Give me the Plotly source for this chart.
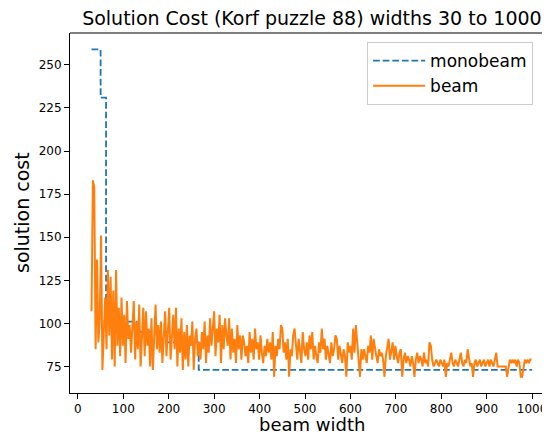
import plotly.graph_objects as go

# ---- data ----
mono_widths = [30, 50, 62, 85, 129, 196, 266, 1000]
mono_costs = [259, 231, 105, 101, 95, 89, 73, 73]

beam_start = 30
beam_step = 3
beam_costs = [
    107, 183, 179, 85, 137, 89, 101, 151, 73, 91,
    115, 85, 131, 93, 127, 79, 119, 75, 131, 87,
    109, 81, 115, 87, 105, 77, 113, 91, 99, 83,
    97, 113, 79, 101, 85, 111, 75, 95, 109, 81,
    107, 87, 97, 75, 103, 73, 93, 111, 85, 99,
    83, 101, 77, 95, 107, 81, 99, 109, 79, 93,
    105, 85, 109, 75, 97, 83, 103, 73, 95, 79,
    99, 75, 93, 87, 101, 73, 91, 97, 81, 89,
    79, 95, 85, 101, 77, 93, 83, 103, 87, 97,
    107, 81, 97, 89, 105, 77, 99, 85, 103, 93,
    87, 103, 79, 97, 83, 91, 77, 99, 85, 93,
    79, 93, 89, 81, 87, 77, 95, 83, 91, 79,
    97, 85, 89, 79, 93, 83, 77, 87, 81, 91,
    83, 89, 79, 95, 69, 87, 81, 91, 85, 99,
    97, 83, 89, 79, 91, 69, 85, 81, 93, 97,
    87, 79, 91, 83, 77, 95, 85, 81, 89, 79,
    93, 85, 95, 79, 87, 81, 77, 89, 83, 97,
    85, 91, 79, 87, 83, 77, 89, 81, 85, 93,
    91, 79, 87, 83, 77, 85, 81, 69, 89, 83,
    87, 79, 97, 83, 99, 89, 81, 69, 85, 79,
    85, 81, 77, 87, 83, 93, 79, 91, 85, 81,
    77, 85, 81, 83, 79, 69, 81, 87, 91, 79,
    85, 89, 79, 87, 81, 77, 83, 85, 69, 79,
    83, 77, 81, 79, 75, 81, 77, 69, 79, 83,
    77, 81, 79, 75, 83, 77, 79, 75, 89, 87,
    79, 75, 77, 79, 77, 75, 79, 77, 75, 79,
    69, 77, 75, 79, 83, 77, 75, 79, 77, 75,
    79, 83, 77, 75, 79, 77, 85, 79, 75, 77,
    69, 77, 79, 75, 77, 79, 75, 77, 79, 75,
    77, 79, 75, 79, 77, 75, 79, 83, 75, 75,
    75, 75, 75, 75, 75, 69, 75, 79, 77, 79,
    77, 79, 75, 79, 77, 69, 69, 75, 79, 77,
    79, 77, 79, 79,
]
beam_widths = [beam_start + beam_step * i for i in range(len(beam_costs))]

x_ticks = [0, 100, 200, 300, 400, 500, 600, 700, 800, 900, 1000]
y_ticks = [75, 100, 125, 150, 175, 200, 225, 250]

FONT = "DejaVu Sans"
FIG_H = 428

fig = go.Figure()
fig.add_trace(go.Scatter(
    x=mono_widths, y=mono_costs, mode="lines", name="monobeam",
    line=dict(color="#1f77b4", width=1.8, dash="6.7px,2.9px", shape="hv"),
))
fig.add_trace(go.Scatter(
    x=beam_widths, y=beam_costs, mode="lines", name="beam",
    line=dict(color="#ff7f0e", width=2),
))

fig.update_layout(
    width=542, height=FIG_H,
    margin=dict(l=62, r=0, t=25, b=43, autoexpand=False),
    paper_bgcolor="white", plot_bgcolor="white",
    font=dict(family=FONT, color="black", size=12),
    title=dict(text="Solution Cost (Korf puzzle 88) widths 30 to 1000",
               x=0.504, xref="paper", xanchor="center",
               y=1 - 10 / FIG_H, yref="container", yanchor="middle",
               font=dict(family=FONT, size=19, color="black")),
    showlegend=True,
    legend=dict(x=0.619, y=0.975, xanchor="left", yanchor="top",
                bgcolor="rgba(255,255,255,0.8)", bordercolor="#cccccc",
                borderwidth=1, itemwidth=52,
                font=dict(family=FONT, size=17, color="black")),
    xaxis=dict(range=[-17.4, 1039.4], tickvals=x_ticks, automargin=False,
               showgrid=False, zeroline=False,
               showline=True, linecolor="black", linewidth=1,
               ticks="outside", ticklen=5, tickcolor="black",
               tickfont=dict(size=12)),
    yaxis=dict(range=[59.6, 268.5], tickvals=y_ticks, automargin=False,
               showgrid=False, zeroline=False,
               showline=True, linecolor="black", linewidth=1,
               ticks="outside", ticklen=5, tickcolor="black",
               tickfont=dict(size=12)),
    shapes=[dict(type="line", xref="paper", yref="paper",
                 x0=0, x1=1, y0=1, y1=1,
                 line=dict(color="black", width=1))],
    annotations=[
        dict(text="beam width", xref="paper", yref="paper",
             x=0.504, y=(393 - 424.5) / 360, xanchor="center", yanchor="middle",
             showarrow=False, font=dict(family=FONT, size=18, color="black")),
        dict(text="solution cost", xref="paper", yref="paper",
             x=(22 - 70) / 480, y=0.5, xanchor="center", yanchor="middle",
             textangle=-90, showarrow=False,
             font=dict(family=FONT, size=19, color="black")),
    ],
)

fig.write_html("out.html")
